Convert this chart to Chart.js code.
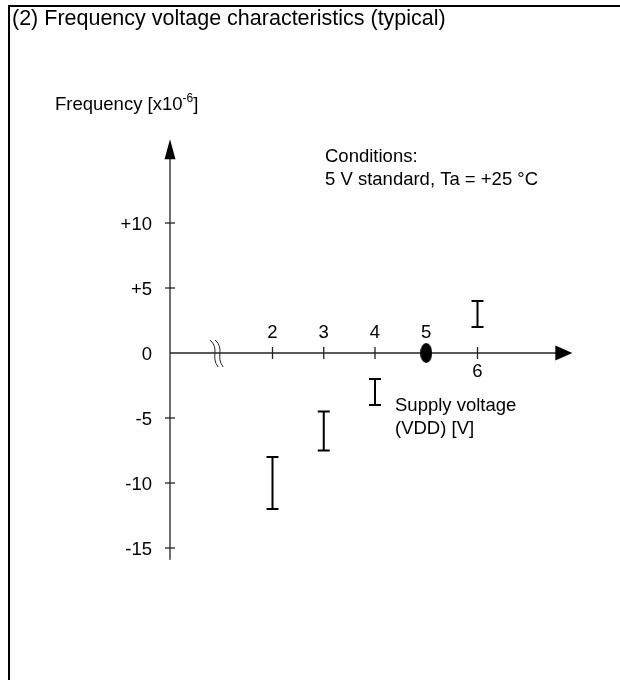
<!DOCTYPE html>
<html>
<head>
<meta charset="utf-8">
<script src="https://cdn.jsdelivr.net/npm/chart.js@4.4.0/dist/chart.umd.min.js"></script>
<style>
  html, body { margin: 0; padding: 0; background: #fff; }
  #wrap { width: 620px; height: 680px; }
</style>
</head>
<body>
<div id="wrap"><canvas id="freqChart" width="620" height="680"></canvas></div>
<script>
// Supply voltage [V] and frequency deviation range [x10^-6]
const voltages = [2, 3, 4, 6];
const freqLow = [-12, -7.5, -4, 2];
const freqHigh = [-8, -4.5, -2, 4];

// 5 V standard is the reference point
const refVoltage = [5];
const refFreq = [0];

// Axis ticks
const xTicks = [2, 3, 4, 5, 6];
const xTickLabels = ['2', '3', '4', '5', '6'];
const yTicks = [10, 5, 0, -5, -10, -15];
const yTickLabels = ['+10', '+5', '0', '-5', '-10', '-15'];

const FONT = '"Liberation Sans", Arial, sans-serif';
const INK = '#000';

// Error bars as one line series, broken by null points
const barData = voltages.flatMap((v, i) => [
    { x: v, y: freqLow[i] },
    { x: v, y: freqHigh[i] },
    { x: v, y: null }
]);

// Filled ellipse used as the marker of the reference point
const dot = document.createElement('canvas');
dot.width = 12;
dot.height = 20;
const dctx = dot.getContext('2d');
dctx.fillStyle = INK;
dctx.beginPath();
dctx.ellipse(6, 10, 6, 10, 0, 0, Math.PI * 2);
dctx.fill();

// canvas 'middle' sits a little high for these glyphs, so nudge down
function text(ctx, str, px, py, size, align) {
    ctx.font = size + 'px ' + FONT;
    ctx.textAlign = align || 'left';
    ctx.textBaseline = 'middle';
    ctx.fillText(str, px, py + 2);
}

// Draws the hand-made axes (arrows, crossing ticks, break mark) and labels
const sketchAxes = {
    id: 'sketchAxes',
    beforeDatasetsDraw(chart) {
        const { ctx, scales: { x, y } } = chart;
        const x0 = x.getPixelForValue(0);
        const y0 = y.getPixelForValue(0);
        ctx.save();
        ctx.strokeStyle = '#222';
        ctx.fillStyle = INK;
        ctx.lineWidth = 1.3;

        // y axis with arrow
        const yTop = y.getPixelForValue(16.45);
        const yBot = y.getPixelForValue(-15.9);
        ctx.beginPath();
        ctx.moveTo(x0, yBot);
        ctx.lineTo(x0, yTop + 18);
        ctx.stroke();
        ctx.beginPath();
        ctx.moveTo(x0, yTop);
        ctx.lineTo(x0 - 5.5, yTop + 20);
        ctx.lineTo(x0 + 5.5, yTop + 20);
        ctx.closePath();
        ctx.fill();

        // x axis with arrow
        const xTip = x.getPixelForValue(7.85);
        ctx.beginPath();
        ctx.moveTo(x0, y0);
        ctx.lineTo(xTip - 14, y0);
        ctx.stroke();
        ctx.beginPath();
        ctx.moveTo(xTip, y0);
        ctx.lineTo(xTip - 17, y0 - 7.5);
        ctx.lineTo(xTip - 17, y0 + 7.5);
        ctx.closePath();
        ctx.fill();

        // y ticks cross the axis
        yTicks.forEach(v => {
            const py = y.getPixelForValue(v);
            if (v === 0) return;
            ctx.beginPath();
            ctx.moveTo(x0 - 5, py);
            ctx.lineTo(x0 + 5, py);
            ctx.stroke();
        });
        // x ticks cross the axis
        xTicks.forEach(v => {
            const px = x.getPixelForValue(v);
            ctx.beginPath();
            ctx.moveTo(px, y0 - 6);
            ctx.lineTo(px, y0 + 6);
            ctx.stroke();
        });

        // axis break mark
        const bx = x.getPixelForValue(0.93);
        ctx.lineWidth = 1;
        [-3.5, 1.5].forEach(d => {
            ctx.beginPath();
            ctx.moveTo(bx + d - 4, y0 - 13);
            ctx.bezierCurveTo(bx + d + 6, y0 - 4, bx + d - 4, y0 + 4, bx + d + 4, y0 + 14);
            ctx.stroke();
        });
        ctx.restore();
    },
    afterDraw(chart) {
        const { ctx, scales: { x, y } } = chart;
        const x0 = x.getPixelForValue(0);
        const y0 = y.getPixelForValue(0);
        ctx.save();
        ctx.fillStyle = INK;

        // frame
        ctx.fillRect(8, 5, 612, 2);
        ctx.fillRect(8, 5, 2, 675);

        text(ctx, '(2) Frequency voltage characteristics (typical)', 12, 17, 21.5);

        // y axis title with superscript
        const fs = 18.5;
        ctx.font = fs + 'px ' + FONT;
        let lx = 55;
        const ly = 103;
        text(ctx, 'Frequency [x10', lx, ly, fs);
        lx += ctx.measureText('Frequency [x10').width;
        text(ctx, '-6', lx, ly - 6, 12);
        ctx.font = '12px ' + FONT;
        lx += ctx.measureText('-6').width;
        text(ctx, ']', lx, ly, fs);

        yTicks.forEach((v, i) => {
            text(ctx, yTickLabels[i], x0 - 18, y.getPixelForValue(v), fs, 'right');
        });
        xTicks.forEach((v, i) => {
            // the 6 V label sits under the axis, clear of its bar
            const below = v === 6;
            text(ctx, xTickLabels[i], x.getPixelForValue(v), below ? y0 + 17 : y0 - 22, fs, 'center');
        });

        text(ctx, 'Conditions:', 325, 155, fs);
        text(ctx, '5 V standard, Ta = +25 \u00B0C', 325, 178, fs);
        text(ctx, 'Supply voltage', 395, 404, fs);
        text(ctx, '(VDD) [V]', 395, 427, fs);
        ctx.restore();
    }
};

const ctx = document.getElementById('freqChart').getContext('2d');
new Chart(ctx, {
    type: 'scatter',
    data: {
        datasets: [
            {
                label: 'Frequency range',
                data: barData,
                showLine: true,
                spanGaps: false,
                borderColor: INK,
                borderWidth: 2,
                pointStyle: 'line',
                pointRadius: 6,
                pointBorderWidth: 2,
                pointBorderColor: INK
            },
            {
                label: '5 V standard',
                data: refVoltage.map((v, i) => ({ x: v, y: refFreq[i] })),
                pointStyle: dot,
                pointRadius: 10
            }
        ]
    },
    options: {
        responsive: false,
        animation: false,
        devicePixelRatio: 1,
        layout: { padding: { left: 170, right: 40, top: 93, bottom: 67 } },
        scales: {
            x: { type: 'linear', min: 0, max: 8, display: false },
            y: { type: 'linear', min: -20, max: 20, display: false }
        },
        plugins: {
            legend: { display: false },
            tooltip: { enabled: false }
        }
    },
    plugins: [sketchAxes]
});
</script>
</body>
</html>
